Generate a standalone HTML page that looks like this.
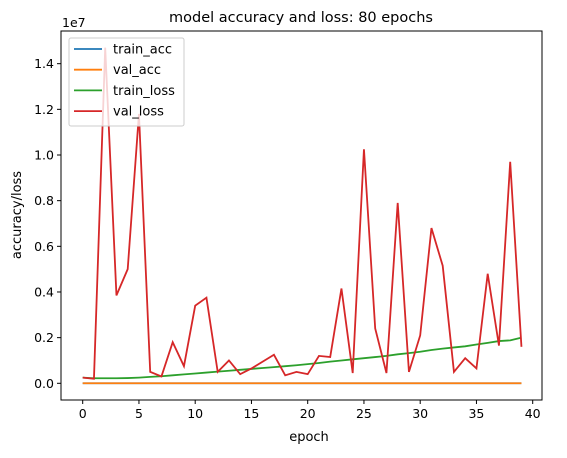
<!DOCTYPE html>
<html><head><meta charset="utf-8"><style>
body{margin:0;background:#fff;}
svg text{font-family:"DejaVu Sans","Liberation Sans",sans-serif;fill:#000;}
</style></head><body>
<svg id="chart" width="567" height="453">
<text x="301" y="22" text-anchor="middle" font-size="14.5">model accuracy and loss: 80 epochs</text>
<text x="62" y="27" font-size="12.5">1e7</text>
<text x="309" y="441" text-anchor="middle" font-size="13">epoch</text>
<text transform="translate(21,215) rotate(-90)" text-anchor="middle" font-size="13">accuracy/loss</text>
<g id="xticks"></g>
<g id="yticks"></g>
<g id="series"></g>
<rect x="61" y="31" width="481" height="369" fill="none" stroke="#000" stroke-width="1"/>
<g>
<rect x="69" y="38" width="115" height="88" rx="2" fill="#fff" fill-opacity="0.8" stroke="#ccc"/>
<g id="legend-items"></g>
</g>
</svg>
<script>
const epochs=[...Array(40).keys()];
const trainAcc=Array(40).fill(0.0001);
const valAcc=Array(40).fill(0.0001);
const trainLoss=[0.025,0.022,0.022,0.022,0.023,0.025,0.028,0.031,0.035,0.039,0.043,0.047,0.051,0.055,0.059,0.063,0.067,0.071,0.075,0.079,0.084,0.089,0.095,0.1,0.105,0.11,0.115,0.12,0.127,0.132,0.138,0.146,0.152,0.157,0.162,0.17,0.177,0.185,0.188,0.2];
const valLoss=[0.025,0.02,1.47,0.385,0.5,1.18,0.05,0.03,0.18,0.075,0.34,0.375,0.05,0.1,0.04,0.065,0.095,0.125,0.035,0.05,0.04,0.12,0.115,0.415,0.045,1.025,0.24,0.045,0.79,0.05,0.21,0.68,0.515,0.05,0.11,0.065,0.48,0.165,0.97,0.16];
const xTicks=[0,5,10,15,20,25,30,35,40];
const yTicks=[0,0.2,0.4,0.6,0.8,1.0,1.2,1.4];
const seriesNames=["train_acc","val_acc","train_loss","val_loss"];
const colors=["#1f77b4","#ff7f0e","#2ca02c","#d62728"];
const NS="http://www.w3.org/2000/svg";
const xs=v=>82.7+v*11.25;
const ys=v=>383.3-v*228.3;
function mk(t,a,p){const e=document.createElementNS(NS,t);for(const k in a)e.setAttribute(k,a[k]);p.appendChild(e);return e;}
const xg=document.getElementById('xticks');
xTicks.forEach(t=>{
 const l=mk('line',{x1:xs(t),x2:xs(t),y1:400,y2:404,stroke:'#000'},xg);
 
 
 const tx=mk('text',{x:xs(t),y:418,'text-anchor':'middle','font-size':'12.5'},xg);
 tx.textContent=t;
 
 
});
const yg=document.getElementById('yticks');
yTicks.forEach(t=>{
 const l=mk('line',{x1:57,x2:61,y1:ys(t),y2:ys(t),stroke:'#000'},yg);
 
 
 const tx=mk('text',{x:54,y:ys(t)+4.5,'text-anchor':'end','font-size':'12.5'},yg);
 tx.textContent=t.toFixed(1);
 
 
});
const sg=document.getElementById('series');
[trainAcc,valAcc,trainLoss,valLoss].forEach((d,i)=>{
 const p=mk('polyline',{points:d.map((v,j)=>xs(epochs[j])+','+ys(v)).join(' '),fill:'none',stroke:colors[i],'stroke-width':1.8},sg);
 
 
});
const lg=document.getElementById('legend-items');
seriesNames.forEach((n,i)=>{
 const y=49+i*20.7;
 const l=mk('line',{x1:74,x2:102,y1:y,y2:y,stroke:colors[i],'stroke-width':1.8},lg);
 
 
 const t=mk('text',{x:113,y:y+4.5,'font-size':'13'},lg);
 t.textContent=n;
 
 
});
</script>
</body></html>
